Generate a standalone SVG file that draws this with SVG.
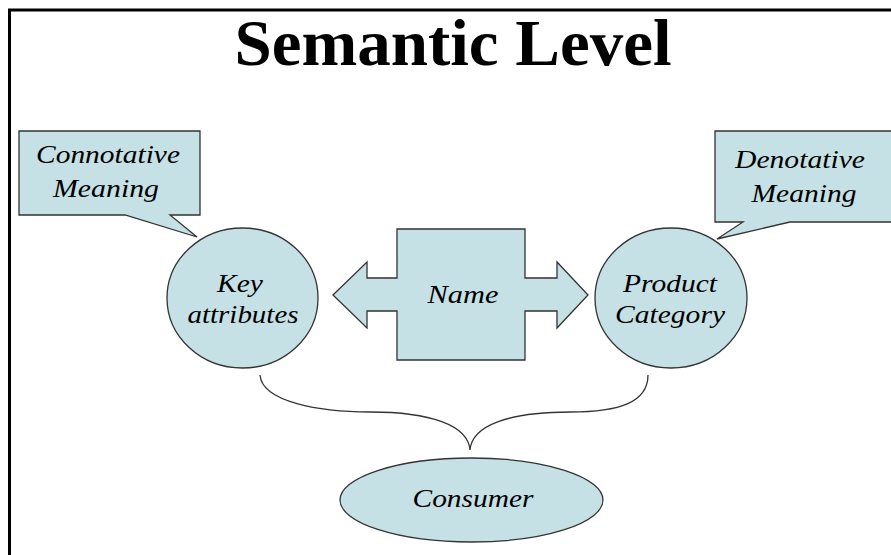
<svg xmlns="http://www.w3.org/2000/svg" width="891" height="555" viewBox="0 0 891 555">
<style>
.shape{fill:#c5e1e5;stroke:#333;stroke-width:1.3}
.lbl{font-family:"Liberation Serif","Times New Roman",serif;font-style:italic;font-size:26px;fill:#000;text-anchor:middle}
.title{font-family:"Liberation Serif","Times New Roman",serif;font-weight:bold;font-size:65px;fill:#000;text-anchor:middle}
.conn{fill:none;stroke:#333;stroke-width:1.3}
</style>
<rect x="0" y="0" width="891" height="555" fill="#fff"/>
<path d="M9.5,560 V10 H900" fill="none" stroke="#000" stroke-width="3"/>
<text class="title" x="453" y="65" textLength="437" lengthAdjust="spacingAndGlyphs">Semantic Level</text>

<g id="connotative">
<path class="shape" d="M19,131 H200 V215 H170 L197,237 L125,215 H19 Z"/>
<text class="lbl" x="108" y="163" textLength="144" lengthAdjust="spacingAndGlyphs">Connotative</text>
<text class="lbl" x="106" y="197" textLength="106" lengthAdjust="spacingAndGlyphs">Meaning</text>
</g>

<g id="denotative">
<path class="shape" d="M715,131 H895 V222 H790 L717,239 L743,222 H715 Z"/>
<text class="lbl" x="800" y="168" textLength="130" lengthAdjust="spacingAndGlyphs">Denotative</text>
<text class="lbl" x="804" y="202" textLength="105" lengthAdjust="spacingAndGlyphs">Meaning</text>
</g>

<g id="key-attributes">
<ellipse class="shape" cx="242.5" cy="298" rx="75.5" ry="70"/>
<text class="lbl" x="240" y="292" textLength="46" lengthAdjust="spacingAndGlyphs">Key</text>
<text class="lbl" x="243" y="323" textLength="111" lengthAdjust="spacingAndGlyphs">attributes</text>
</g>

<g id="name">
<path class="shape" d="M397,229 H525 V278 H557 V262 L588,295 L557,328 V311 H525 V360 H397 V311 H367 V328 L333,295 L367,262 V278 H397 Z"/>
<text class="lbl" x="463" y="303" textLength="71" lengthAdjust="spacingAndGlyphs">Name</text>
</g>

<g id="product-category">
<ellipse class="shape" cx="671" cy="298" rx="76" ry="70"/>
<text class="lbl" x="670" y="292" textLength="94" lengthAdjust="spacingAndGlyphs">Product</text>
<text class="lbl" x="670" y="323" textLength="110" lengthAdjust="spacingAndGlyphs">Category</text>
</g>

<g id="consumer">
<ellipse class="shape" cx="471.5" cy="500" rx="131.5" ry="42"/>
<text class="lbl" x="473" y="507" textLength="121" lengthAdjust="spacingAndGlyphs">Consumer</text>
</g>

<g id="connectors">
<path class="conn" d="M260,375 C262,402 320,412 370,412 C430,412 468,425 470,450 C472,425 510,412 570,412 C620,412 648,402 648,375"/>
</g>
</svg>
